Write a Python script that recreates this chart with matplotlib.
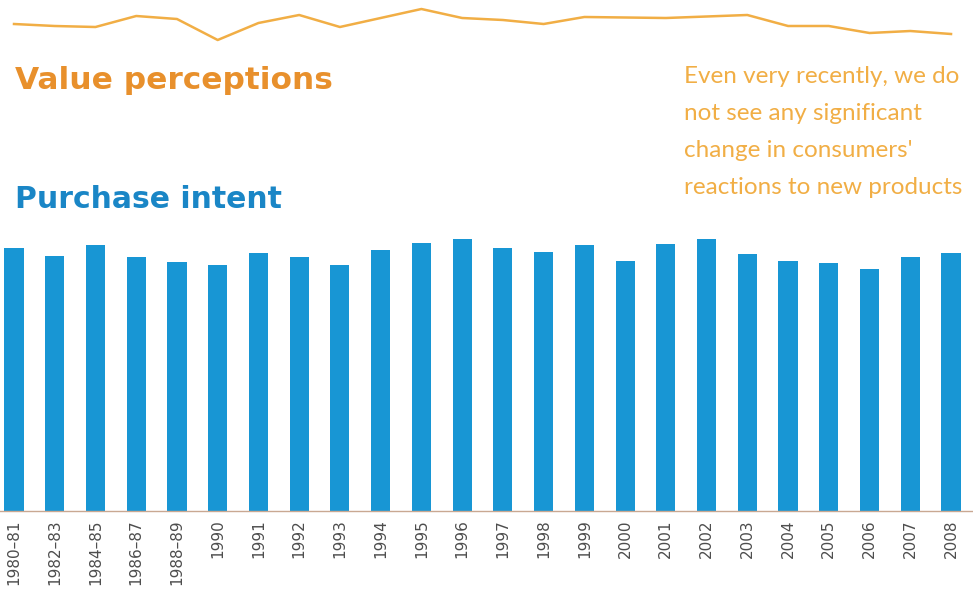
import matplotlib.pyplot as plt
import numpy as np

# periods on the x axis
periods = ["1980–81", "1982–83", "1984–85", "1986–87", "1988–89", "1990", "1991",
           "1992", "1993", "1994", "1995", "1996", "1997", "1998", "1999", "2000",
           "2001", "2002", "2003", "2004", "2005", "2006", "2007", "2008"]

# purchase intent (bars)
purchase_intent = [52.6, 51.0, 53.2, 50.8, 49.8, 49.2, 51.6, 50.8, 49.2, 52.2, 53.6, 54.4,
                   52.6, 51.8, 53.2, 50.0, 53.4, 54.4, 51.4, 50.0, 49.6, 48.4, 50.8, 51.6]

# value perceptions (line)
value_perceptions = [36, 34, 33, 44, 41, 20, 37, 45, 33, 42, 51, 42,
                     40, 36, 43, 42.5, 42, 43.5, 45, 34, 34, 27, 29, 26]

BLUE = "#1896d4"
ORANGE = "#e8902c"
LIGHT_ORANGE = "#f1ae45"

W, H = 973, 596
fig = plt.figure(figsize=(W / 100, H / 100), dpi=100)
fig.patch.set_facecolor("white")

x = np.arange(len(periods))
step = 40.74
x0 = 14
xlim = (-x0 / step, (W - x0) / step)

# bars
ax = fig.add_axes([0, 1 - 511 / H, 1, 281 / H])
ax.bar(x, purchase_intent, width=0.47, color=BLUE, zorder=2)
ax.set_xlim(*xlim)
ax.set_ylim(0, 56.2)
for s in ["top", "right", "left"]:
    ax.spines[s].set_visible(False)
ax.spines["bottom"].set_color("#c9a892")
ax.spines["bottom"].set_linewidth(1.0)
ax.set_yticks([])
ax.set_xticks(x)
ax.set_xticklabels(periods, rotation=90, fontsize=11, color="#4d4d4d",
                   family="Liberation Sans Narrow", va="top")
ax.tick_params(axis="x", length=0, pad=6)

# line on top
lax = fig.add_axes([0, 1 - 60 / H, 1, 60 / H])
lax.plot(x, value_perceptions, color=LIGHT_ORANGE, lw=1.8, solid_joinstyle="round")
lax.set_xlim(*xlim)
lax.set_ylim(0, 60)
lax.axis("off")

# titles
fig.text(15 / W, 1 - 89 / H, "Value perceptions", color=ORANGE, fontsize=22.5,
         fontweight="bold", ha="left", va="baseline")
fig.text(15 / W, 1 - 208 / H, "Purchase intent", color="#1a86c6", fontsize=21.5,
         fontweight="bold", ha="left", va="baseline")

fig.text(684 / W, 1 - 66 / H,
         "Even very recently, we do\nnot see any significant\nchange in consumers'\nreactions to new products",
         color=LIGHT_ORANGE, fontsize=17.5, family="Lato", ha="left", va="top",
         linespacing=1.95)

fig.savefig("out.png", dpi=100, facecolor="white")
